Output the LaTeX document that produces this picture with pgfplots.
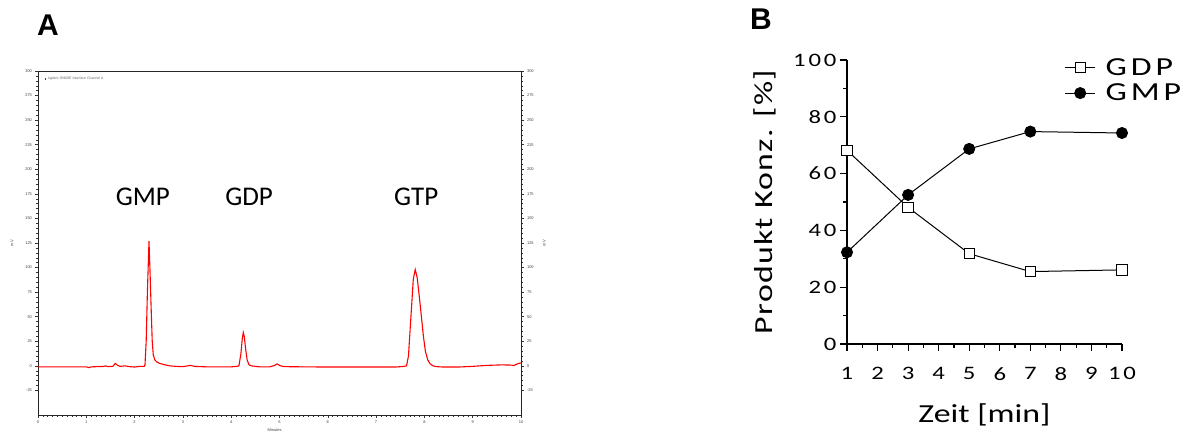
\documentclass[border=0pt]{standalone}
\usepackage{fontspec}
\setmainfont{Liberation Sans}
\newfontfamily\calib{Carlito}
\newfontfamily\bfont[FakeStretch=1.3]{Carlito}
\newfontfamily\bfontl[FakeStretch=1.3,LetterSpace=5]{Carlito}
\newfontfamily\bfontsp[FakeStretch=1.3,LetterSpace=15]{Carlito}
\usepackage{pgfplots}
\pgfplotsset{compat=1.18}
\begin{document}
\begin{tikzpicture}[x=1pt,y=1pt]
\useasboundingbox (0,0) rectangle (1184,-432);
\node[anchor=base west,inner sep=0,font=\bfseries\fontsize{30}{30}\selectfont] at (37,-35) {A};
\node[anchor=base west,inner sep=0,font=\bfseries\fontsize{30}{30}\selectfont] at (750,-29) {B};
% ---------- Panel A ----------
\begin{axis}[at={(38pt,-415pt)}, anchor=south west, scale only axis,
  width=483pt, height=344pt,
  xmin=0, xmax=10, ymin=-50, ymax=300,
  xtick={0,1,...,10}, ytick={-25,0,25,...,300},
  minor x tick num=9, minor y tick num=4,
  xtick pos=bottom, ytick pos=left,
  tick align=outside, major tick length=2.5pt, minor tick length=1.5pt,
  tick style={line width=0.5pt, black!80},
  axis line style={line width=0.9pt, black!85},
  /pgf/number format/assume math mode=true,
  ticklabel style={font=\fontsize{4}{4}\selectfont, text=black!75},
  xlabel={Minutes}, ylabel={mV},
  xlabel style={font=\fontsize{4}{4}\selectfont, text=black!75, at={(axis description cs:0.49,-0.044)}, anchor=center},
  ylabel style={font=\fontsize{4}{4}\selectfont, text=black!75, at={(axis description cs:-0.054,0.5)}, anchor=center},
  legend style={at={(axis description cs:0.015,0.99)}, anchor=north west, draw=none, fill=none,
    font=\fontsize{3.5}{4}\selectfont, text=black!60, inner sep=0pt},
  legend cell align=left,
  legend image code/.code={\draw[red,line width=0.4pt] (0pt,-1pt)--(0pt,1pt);},
]
\addplot[red, line width=1.1pt] coordinates {
(0,-1) (0.5,-1) (1.0,-1) (1.05,-1.8) (1.1,-1) (1.35,-0.6) (1.4,0) (1.45,-0.8)
(1.55,-0.5) (1.6,2.5) (1.65,0.5) (1.7,-0.5) (1.8,0) (1.9,-0.8) (2.0,-1.2) (2.1,-0.5)
(2.2,-0.5) (2.215,1) (2.24,25) (2.265,75) (2.298,127) (2.32,95) (2.345,55) (2.365,25)
(2.387,11) (2.42,6) (2.46,4) (2.52,2.5) (2.59,1.5) (2.73,0) (2.85,-0.5) (3.0,-0.8)
(3.1,0) (3.15,0.5) (3.25,-0.6) (3.5,-1) (3.8,-1) (4.0,-1) (4.12,-0.5) (4.16,0)
(4.2,12) (4.23,28) (4.25,34) (4.27,30) (4.3,17) (4.33,6) (4.37,1) (4.42,0)
(4.5,-0.5) (4.6,-1) (4.8,-1) (4.9,0.5) (4.95,2) (5.02,0) (5.1,-0.8) (5.5,-1)
(6.0,-1.2) (6.5,-1.2) (7.0,-1.2) (7.4,-1.2) (7.58,-0.5) (7.63,0) (7.67,10) (7.72,49)
(7.77,88) (7.81,98) (7.85,90) (7.9,68) (7.94,49) (7.98,30) (8.02,15) (8.07,6)
(8.12,2) (8.18,0) (8.25,-0.8) (8.4,-1.2) (8.7,-1.2) (9.0,-0.5) (9.3,0.5) (9.6,1)
(9.8,0.8) (9.85,0.3) (9.9,1.5) (9.95,2.5) (10,3)
};
\addlegendentry{Agilent 35900E Interface Channel A}
\node[font=\calib\fontsize{27}{27}\selectfont] at (axis cs:2.17,172) {GMP};
\node[font=\calib\fontsize{27}{27}\selectfont] at (axis cs:4.37,172) {GDP};
\node[font=\calib\fontsize{27}{27}\selectfont] at (axis cs:7.83,172) {GTP};
\end{axis}
% right axis of panel A
\begin{axis}[at={(38pt,-415pt)}, anchor=south west, scale only axis,
  width=483pt, height=344pt,
  xmin=0, xmax=10, ymin=-50, ymax=300,
  axis x line=none, axis y line*=right,
  ytick={-25,0,25,...,300}, minor y tick num=4,
  tick align=outside, major tick length=2.5pt, minor tick length=1.5pt,
  tick style={line width=0.5pt, black!80},
  axis line style={line width=0.9pt, black!85},
  /pgf/number format/assume math mode=true,
  ticklabel style={font=\fontsize{4}{4}\selectfont, text=black!75},
  ylabel={mV},
  ylabel style={font=\fontsize{4}{4}\selectfont, text=black!75, at={(axis description cs:1.048,0.5)}, anchor=center},
]
\addplot[draw=none] coordinates {(0,0)};
\end{axis}
% ---------- Panel B ----------
\begin{axis}[at={(847pt,-344pt)}, anchor=south west, scale only axis,
  width=275pt, height=284pt,
  xmin=1, xmax=10, ymin=0, ymax=100,
  axis x line*=bottom, axis y line*=left, clip=false,
  axis line style={line width=1.2pt, black},
  xtick={1,2,...,10}, ytick={0,20,...,100},
  minor x tick num=1, minor y tick num=1,
  tick align=outside, major tick length=7pt, minor tick length=4pt,
  every tick/.style={line width=1.2pt, black},
  every minor tick/.style={line width=1.2pt, black},
  /pgf/number format/assume math mode=true,
  ticklabel style={font=\bfontsp\fontsize{19}{19}\selectfont},
  xticklabel style={yshift=-13pt},
  xlabel={Zeit [min]}, ylabel={Produkt Konz. [\%]},
  xlabel style={font=\bfont\fontsize{26}{26}\selectfont, at={(axis description cs:0.5,-0.25)}, anchor=center},
  ylabel style={font=\bfontl\fontsize{26}{26}\selectfont, at={(axis description cs:-0.298,0.5)}, anchor=center},
  legend style={at={(axis description cs:0.78,1.02)}, anchor=north west, draw=none, fill=none,
    font=\bfontsp\fontsize{26}{26}\selectfont, row sep=3pt, column sep=8pt},
  legend cell align=left,
  legend image code/.code={\draw[mark repeat=2,mark phase=2,#1] plot coordinates {(0pt,0pt) (15pt,0pt) (30pt,0pt)};},
]
\addplot[black, line width=1pt, mark=square*, mark size=5.2pt, mark options={fill=white, line width=1pt}] coordinates {
(1,68.2) (3,48.1) (5,31.8) (7,25.5) (10,26.1)
};
\addlegendentry{GDP}
\addplot[black, line width=1pt, mark=*, mark size=5.5pt, mark options={fill=black}] coordinates {
(1,32.3) (3,52.5) (5,68.7) (7,74.8) (10,74.3)
};
\addlegendentry{GMP}
\end{axis}
\end{tikzpicture}
\end{document}
